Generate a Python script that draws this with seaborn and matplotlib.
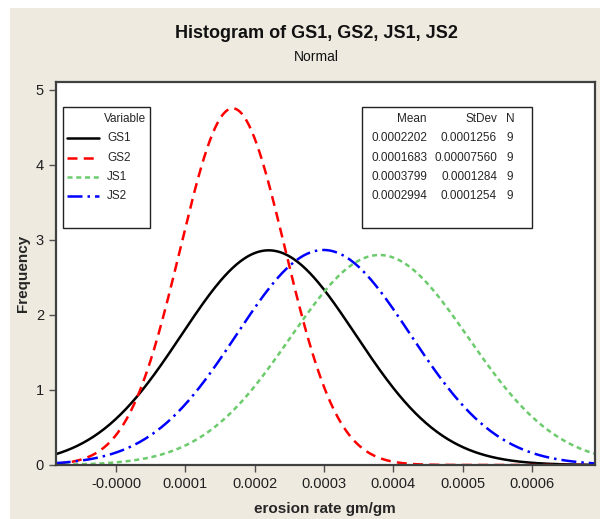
import numpy as np
import pandas as pd
import matplotlib
matplotlib.use("Agg")
import matplotlib.pyplot as plt
from matplotlib.patches import Rectangle
from matplotlib.ticker import FixedLocator, FixedFormatter
import seaborn as sns

# fitted normal parameters per variable
variables = ["GS1", "GS2", "JS1", "JS2"]
means = [0.0002202, 0.0001683, 0.0003799, 0.0002994]
stdevs = [0.0001256, 0.00007560, 0.0001284, 0.0001254]
counts = [9, 9, 9, 9]
mean_labels = ["0.0002202", "0.0001683", "0.0003799", "0.0002994"]
sd_labels = ["0.0001256", "0.00007560", "0.0001284", "0.0001254"]
bin_width = 0.0001

x_ticks = [0.0, 0.0001, 0.0002, 0.0003, 0.0004, 0.0005, 0.0006]
x_tick_labels = ["-0.0000", "0.0001", "0.0002", "0.0003", "0.0004", "0.0005", "0.0006"]
x_range = (-0.0000870, 0.000691)

# build fitted curves (scaled to histogram frequency)
grid = np.linspace(x_range[0], x_range[1], 400)
rows = []
for v, m, s, n in zip(variables, means, stdevs, counts):
    dens = n * bin_width * np.exp(-0.5 * ((grid - m) / s) ** 2) / (s * np.sqrt(2 * np.pi))
    rows.append(pd.DataFrame({"x": grid, "freq": dens, "Variable": v}))
df = pd.concat(rows, ignore_index=True)

sns.set_style("white")
plt.rcParams["font.family"] = ["Liberation Sans", "DejaVu Sans"]

colors = {"GS1": "#000000", "GS2": "#ff0000", "JS1": "#6ccb6c", "JS2": "#0000ff"}
dashes = {"GS1": "", "GS2": (4, 2.5), "JS1": (2, 1.5), "JS2": (6, 2, 1, 2)}

fig = plt.figure(figsize=(6, 5.19), dpi=100, facecolor="white")
fig.patches.append(Rectangle((10 / 600, 0), 590 / 600, 511 / 519, transform=fig.transFigure,
                             facecolor="#eeeae0", edgecolor="none", zorder=-10))
ax = fig.add_axes([55.7 / 600, 54 / 519, 539.3 / 600, 383 / 519])
ax.set_facecolor("white")

sns.lineplot(data=df, x="x", y="freq", hue="Variable", style="Variable",
             palette=colors, dashes=dashes, linewidth=1.8, legend=False, ax=ax)

ax.set_xlim(*x_range)
ax.set_ylim(0, 5.1)
ax.xaxis.set_major_locator(FixedLocator(x_ticks))
ax.xaxis.set_major_formatter(FixedFormatter(x_tick_labels))
ax.set_yticks([0, 1, 2, 3, 4, 5])
ax.tick_params(axis="both", direction="out", length=5, width=1, color="#505050",
               labelsize=10.5, labelcolor="#202020", bottom=True, left=True)
for sp in ax.spines.values():
    sp.set_color("#404040")
    sp.set_linewidth(1.6)

ax.set_xlabel("erosion rate gm/gm", fontsize=11, fontweight="bold", labelpad=8)
ax.set_ylabel("Frequency", fontsize=11, fontweight="bold", labelpad=4)

fig.text(0.527, 1 - 33 / 519, "Histogram of GS1, GS2, JS1, JS2", ha="center", va="center",
         fontsize=13, fontweight="bold", color="#111111")
fig.text(0.527, 1 - 57 / 519, "Normal", ha="center", va="center", fontsize=10, color="#111111")

tr = fig.transFigure

# legend box
fig.patches.append(Rectangle((63 / 600, 1 - 228 / 519), 87 / 600, 121 / 519, transform=tr,
                             facecolor="white", edgecolor="#222222", linewidth=1, zorder=5))
fig.text(146 / 600, 1 - 119 / 519, "Variable", ha="right", va="center", fontsize=8.5, zorder=6)
leg_y = [138, 158, 177, 196]
for v, yy in zip(variables, leg_y):
    ln = plt.Line2D([67 / 600, 99 / 600], [1 - yy / 519] * 2, transform=tr, color=colors[v],
                    linewidth=1.8, zorder=6)
    if dashes[v]:
        ln.set_dashes(dashes[v])
    fig.lines.append(ln)
    fig.text(107 / 600, 1 - yy / 519, v, ha="left", va="center", fontsize=8.5, zorder=6)

# stats box
fig.patches.append(Rectangle((362 / 600, 1 - 228 / 519), 170 / 600, 121 / 519, transform=tr,
                             facecolor="white", edgecolor="#222222", linewidth=1, zorder=5))
fig.text(427 / 600, 1 - 119 / 519, "Mean", ha="right", va="center", fontsize=8.5, zorder=6)
fig.text(497 / 600, 1 - 119 / 519, "StDev", ha="right", va="center", fontsize=8.5, zorder=6)
fig.text(510 / 600, 1 - 119 / 519, "N", ha="center", va="center", fontsize=8.5, zorder=6)
for ml, sl, n, yy in zip(mean_labels, sd_labels, counts, leg_y):
    fig.text(427 / 600, 1 - yy / 519, ml, ha="right", va="center", fontsize=8.5, zorder=6)
    fig.text(497 / 600, 1 - yy / 519, sl, ha="right", va="center", fontsize=8.5, zorder=6)
    fig.text(510 / 600, 1 - yy / 519, str(n), ha="center", va="center", fontsize=8.5, zorder=6)

fig.savefig("out.png", dpi=100, facecolor=fig.get_facecolor())
